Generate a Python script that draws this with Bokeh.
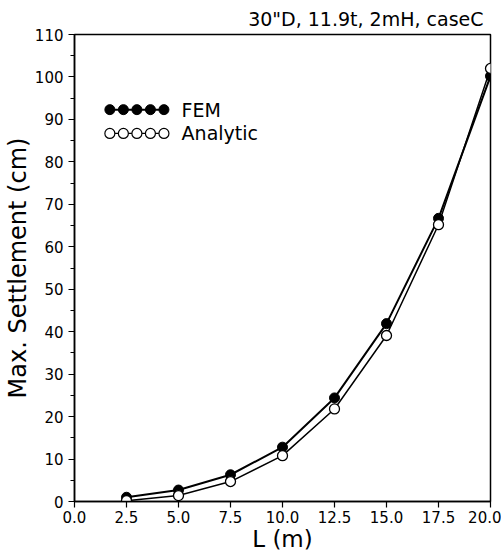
from bokeh.plotting import figure
from bokeh.models import FixedTicker, Range1d, ColumnDataSource
from bokeh.core.properties import value
from bokeh.embed import file_html
from bokeh.resources import INLINE

L = [2.5, 5.0, 7.5, 10.0, 12.5, 15.0, 17.5, 20.0]
fem = [1.0, 2.7, 6.3, 12.8, 24.4, 41.9, 66.7, 100.2]
analytic = [0.2, 1.4, 4.7, 10.8, 21.8, 39.1, 65.2, 102.0]
x_ticks = [0.0, 2.5, 5.0, 7.5, 10.0, 12.5, 15.0, 17.5, 20.0]
y_ticks = list(range(0, 111, 10))
title_text = '30"D, 11.9t, 2mH, caseC'
x_label = "L (m)"
y_label = "Max. Settlement (cm)"
legend_labels = ["FEM", "Analytic"]
legend_x = [1.7, 2.35, 3.0, 3.65, 4.3]
legend_y = [92.3, 86.7]

FONT = "DejaVu Sans"

p = figure(frame_width=416, frame_height=467, output_backend="svg", toolbar_location=None,
           x_range=Range1d(0, 20), y_range=Range1d(0, 110),
           min_border_left=73, min_border_right=11, min_border_bottom=56, min_border_top=33)
p.background_fill_color = "white"
p.border_fill_color = "white"
p.outline_line_color = "black"
p.outline_line_width = 1.5
p.grid.visible = False

p.title.text = title_text
p.title.align = "right"
p.title.text_font = FONT
p.title.text_font_size = "19px"
p.title.text_font_style = "normal"
p.title.text_color = "black"
p.title.offset = 7
p.title.standoff = 10

p.xaxis.ticker = FixedTicker(ticks=x_ticks)
p.yaxis.ticker = FixedTicker(ticks=y_ticks, minor_ticks=[v + 5 for v in y_ticks[:-1]])
p.xaxis.major_label_overrides = {t: f"{t:.1f}" for t in x_ticks}
for ax in (p.xaxis, p.yaxis):
    ax.axis_line_color = "black"
    ax.axis_line_width = 1.5
    ax.major_tick_line_color = "black"
    ax.major_tick_line_width = 1.2
    ax.minor_tick_line_color = "black"
    ax.major_tick_in = 0
    ax.major_tick_out = 6
    ax.minor_tick_in = 0
    ax.minor_tick_out = 4
    ax.major_label_text_font = FONT
    ax.major_label_text_font_size = "15px"
    ax.major_label_text_color = "black"
    ax.axis_label_text_font = FONT
    ax.axis_label_text_font_style = "normal"
    ax.axis_label_text_color = "black"
    ax.axis_label_standoff = 0
p.xaxis.axis_label_text_font_size = "23px"
p.yaxis.axis_label_text_font_size = "24px"
p.xaxis.minor_tick_out = 0
p.xaxis.major_label_standoff = 3
p.yaxis.major_label_standoff = 5
p.xaxis.axis_label = x_label
p.yaxis.axis_label = y_label

src = ColumnDataSource(dict(L=L, fem=fem, analytic=analytic))
p.line("L", "fem", source=src, line_color="black", line_width=2)
p.scatter("L", "fem", source=src, size=10, fill_color="black", line_color="black")
p.line("L", "analytic", source=src, line_color="black", line_width=1.5)
p.scatter("L", "analytic", source=src, size=10, fill_color="white", line_color="black", line_width=1.3)

# legend (drawn inside the frame, like the original)
p.line(legend_x, [legend_y[0]] * 5, line_color="black", line_width=2)
p.scatter(legend_x, [legend_y[0]] * 5, size=10, fill_color="black", line_color="black")
p.line(legend_x, [legend_y[1]] * 5, line_color="black", line_width=1.2)
p.scatter(legend_x, [legend_y[1]] * 5, size=10, fill_color="white", line_color="black", line_width=1.2)
p.text([5.15, 5.15], legend_y, text=legend_labels, text_font=value(FONT),
       text_font_size="19px", text_baseline="middle", text_align="left", text_color="black")

open("out.html", "w").write(file_html(p, INLINE))
